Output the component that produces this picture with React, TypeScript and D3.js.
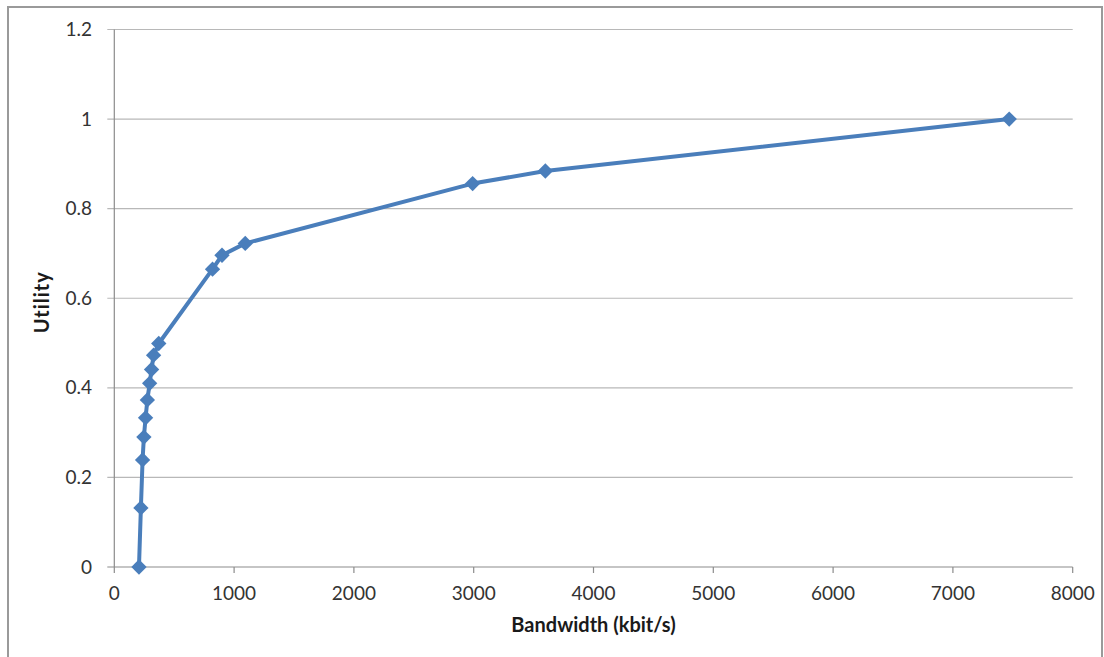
import React from "react";
import * as d3 from "d3";

const bandwidth = [206, 222, 236, 247, 261, 276, 295, 311, 328, 371, 820, 899, 1093, 2991, 3598, 7470];
const utility = [0, 0.132, 0.239, 0.29, 0.333, 0.373, 0.41, 0.441, 0.473, 0.499, 0.665, 0.696, 0.7225, 0.856, 0.884, 1.0];
const xTicks = [0, 1000, 2000, 3000, 4000, 5000, 6000, 7000, 8000];
const yTicks = [0, 0.2, 0.4, 0.6, 0.8, 1, 1.2];
const xTitle = "Bandwidth (kbit/s)";
const yTitle = "Utility";

const W = 1104;
const H = 657;
const L = 114.3, R = 1072.7, T = 29.5, B = 567;
const FONT = "Lato, 'Open Sans', sans-serif";
const BLUE = "#4a7ebb";

export default function App() {
  const x = d3.scaleLinear().domain([0, 8000]).range([L, R]);
  const y = d3.scaleLinear().domain([0, 1.2]).range([B, T]);
  const pts = bandwidth.map((b, i) => [b, utility[i]] as [number, number]);
  const line = d3.line<[number, number]>().x(d => x(d[0])).y(d => y(d[1]));
  const diamond = d3.symbol().type(d3.symbolDiamond2).size(150)() as string;

  return (
    <svg width={W} height={H} style={{ position: "absolute", left: 0, top: 0, background: "#fff" }}>
      <rect x={8} y={7} width={1094} height={700} fill="#fff" stroke="#9a9a9a" strokeWidth={2} />
      {yTicks.map(t => (
        <g key={"y" + t}>
          <line x1={L - 7} x2={R} y1={y(t)} y2={y(t)} stroke={t === 0 ? "#8c8c8c" : "#b8b8b8"} strokeWidth={1.2} />
          <text x={92} y={y(t)} dy="0.35em" textAnchor="end" fontFamily={FONT} fontSize={19} fill="#333">{String(+t.toFixed(1))}</text>
        </g>
      ))}
      <line x1={L} x2={L} y1={T} y2={B} stroke="#8c8c8c" strokeWidth={1.2} />
      {xTicks.map(t => (
        <g key={"x" + t}>
          <line x1={x(t)} x2={x(t)} y1={B} y2={B + 6} stroke="#8c8c8c" strokeWidth={1.2} />
          <text x={x(t)} y={593} dy="0.35em" textAnchor="middle" fontFamily={FONT} fontSize={19} fill="#333">{t}</text>
        </g>
      ))}
      <path d={line(pts) as string} fill="none" stroke={BLUE} strokeWidth={4} strokeLinejoin="round" />
      {pts.map((p, i) => (
        <path key={i} d={diamond} transform={`translate(${x(p[0])},${y(p[1])})`} fill={BLUE} />
      ))}
      <text x={(L + R) / 2} y={625} dy="0.35em" textAnchor="middle" fontFamily={FONT} fontWeight="bold" fontSize={20} fill="#1a1a1a">{xTitle}</text>
      <text transform={`translate(42,${(T + B) / 2 + 4}) rotate(-90)`} dy="0.35em" textAnchor="middle" fontFamily={FONT} fontWeight="bold" fontSize={20} letterSpacing={1} fill="#1a1a1a">{yTitle}</text>
    </svg>
  );
}
